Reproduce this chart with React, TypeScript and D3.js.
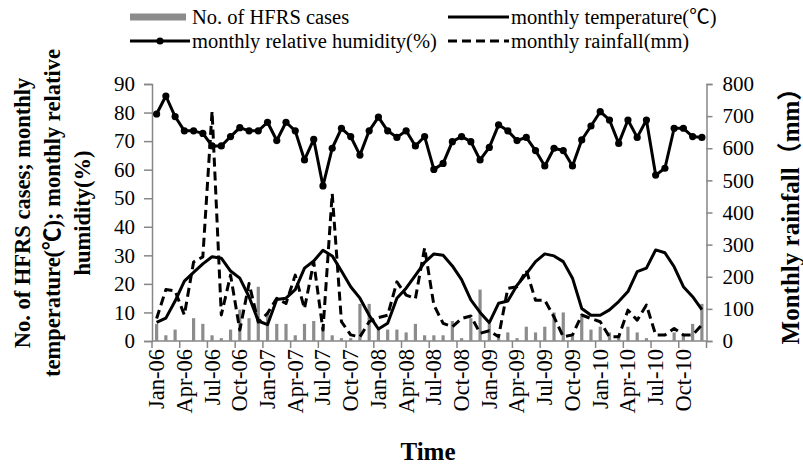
import React, { useEffect, useRef } from 'react';
import * as d3 from 'd3';

const monthNames = ['Jan', 'Feb', 'Mar', 'Apr', 'May', 'Jun', 'Jul', 'Aug', 'Sep', 'Oct', 'Nov', 'Dec'];
const years = ['06', '07', '08', '09', '10'];
const months = years.flatMap(y => monthNames.map(m => `${m}-${y}`));

// No. of HFRS cases
const cases = [
  6, 2, 4, 0, 8, 6, 2, 1, 4, 11, 8, 19,
  10, 6, 6, 2, 6, 7, 5, 2, 1, 1, 13, 13,
  4, 4, 4, 3, 6, 2, 2, 2, 7, 1, 8, 18,
  6, 1, 3, 1, 5, 3, 5, 10, 10, 2, 9, 4,
  5, 3, 2, 5, 3, 1, 0, 0, 3, 2.5, 6, 13
];
// monthly temperature (℃)
const temperature = [
  6.5, 8, 14, 21, 24, 27, 29.5, 29, 24.5, 22, 15.5, 7,
  5.7, 14.5, 15, 18, 25.5, 28, 31.8, 29.8, 24.5, 19, 15, 9,
  4.2, 6.2, 15, 18.5, 23, 27.5, 30.5, 30, 26.3, 21.5, 14.4, 10,
  6.4, 13.2, 14, 19.5, 23.5, 27.8, 30.5, 29.8, 27.8, 22, 11.4, 9,
  9, 10.9, 13.8, 17.3, 24.3, 25.5, 31.9, 30.9, 26, 19, 15.5, 11
];
// monthly relative humidity (%)
const humidity = [
  79.5, 85.8, 78.6, 73.6, 73.6, 72.7, 68.3, 68.3, 71.6, 74.7, 73.6, 73.6,
  76.6, 70.2, 76.6, 73.6, 63.4, 70.6, 54.3, 67.5, 74.5, 71.6, 65.1, 73.6,
  78.4, 73.6, 71.3, 73.6, 68.3, 71.6, 60.1, 62.2, 69.8, 71.6, 69.8, 63.4,
  67.8, 75.7, 73.6, 70.2, 71.3, 66.7, 61.3, 67.5, 66.7, 61.3, 70.4, 75.3,
  80.3, 77.4, 69.2, 77.4, 71.3, 77.4, 58.1, 60.5, 74.5, 74.5, 71.6, 71.3
];
// monthly rainfall (mm)
const rainfall = [
  70, 160, 156, 81, 246, 262, 715, 81, 205, 34, 179, 59,
  86, 133, 117, 205, 101, 246, 34, 459, 60, 19, 13, 60,
  73, 80, 184, 143, 132, 290, 112, 55, 44, 70, 78, 24,
  32, 13, 164, 169, 220, 127, 127, 75, 13, 19, 81, 70,
  60, 13, 13, 96, 65, 112, 19, 19, 39, 19, 19, 50
];

const leftTicks = [0, 10, 20, 30, 40, 50, 60, 70, 80, 90];
const rightTicks = [0, 100, 200, 300, 400, 500, 600, 700, 800];

const serif = "'Liberation Serif', 'Times New Roman', 'Noto Sans CJK SC', serif";

function App() {
  const svgRef = useRef<SVGSVGElement>(null);

  useEffect(() => {
    const svg = d3.select(svgRef.current);
    svg.selectAll('*').remove();

    const left = 152, right = 706.5, top = 84, bottom = 341;
    const axisColor = '#868686';

    const x = d3.scaleBand().domain(months).range([left, right]).padding(0);
    const bw = x.bandwidth();
    const cx = (i: number) => (x(months[i]) as number) + bw / 2;
    const yL = d3.scaleLinear().domain([0, 90]).range([bottom, top]);
    const yR = d3.scaleLinear().domain([0, 800]).range([bottom, top]);

    // left axis
    const gl = svg.append('g').attr('transform', `translate(${left},0)`)
      .call(d3.axisLeft(yL).tickValues(leftTicks).tickSize(8).tickPadding(9));
    // right axis
    const gr = svg.append('g').attr('transform', `translate(${right},0)`)
      .call(d3.axisRight(yR).tickValues(rightTicks).tickSize(6).tickPadding(10));
    [gl, gr].forEach(g => {
      g.select('.domain').attr('stroke', axisColor).attr('stroke-width', 1.5);
      g.selectAll('.tick line').attr('stroke', axisColor).attr('stroke-width', 1.5);
      g.selectAll('.tick text').attr('font-family', serif).attr('font-size', 21).attr('fill', '#000');
    });

    // x axis
    const gx = svg.append('g');
    gx.append('line').attr('x1', left).attr('x2', right).attr('y1', bottom).attr('y2', bottom)
      .attr('stroke', axisColor).attr('stroke-width', 1.5);
    const tickIdx = d3.range(0, months.length + 1, 3);
    gx.selectAll('line.tk').data(tickIdx).join('line').attr('class', 'tk')
      .attr('x1', i => i < months.length ? (x(months[i]) as number) : right)
      .attr('x2', i => i < months.length ? (x(months[i]) as number) : right)
      .attr('y1', bottom).attr('y2', bottom + 7)
      .attr('stroke', axisColor).attr('stroke-width', 1.5);
    gx.selectAll('text').data(months.filter((_, i) => i % 3 === 0)).join('text')
      .attr('transform', (d) => `translate(${(x(d) as number) + bw / 2},349) rotate(-90)`)
      .attr('text-anchor', 'end').attr('dy', '0.33em')
      .attr('font-family', serif).attr('font-size', 22.5).attr('fill', '#000')
      .text(d => d);

    // bars
    svg.append('g').selectAll('rect').data(cases).join('rect')
      .attr('x', (_, i) => cx(i) - 1.6).attr('width', 3.2)
      .attr('y', d => yL(d)).attr('height', d => bottom - yL(d))
      .attr('fill', '#8c8c8c');

    const lineL = d3.line<number>().x((_, i) => cx(i)).y(d => yL(d));
    const lineR = d3.line<number>().x((_, i) => cx(i)).y(d => yR(d));

    svg.append('path').datum(temperature).attr('d', lineL)
      .attr('fill', 'none').attr('stroke', '#000').attr('stroke-width', 3).attr('stroke-linejoin', 'round');

    svg.append('path').datum(humidity).attr('d', lineL)
      .attr('fill', 'none').attr('stroke', '#000').attr('stroke-width', 3).attr('stroke-linejoin', 'round');
    svg.append('g').selectAll('circle').data(humidity).join('circle')
      .attr('cx', (_, i) => cx(i)).attr('cy', d => yL(d)).attr('r', 3.6).attr('fill', '#000');

    svg.append('path').datum(rainfall).attr('d', lineR)
      .attr('fill', 'none').attr('stroke', '#000').attr('stroke-width', 3)
      .attr('stroke-dasharray', '9,5').attr('stroke-linejoin', 'round');

    // legend
    const lg = svg.append('g').attr('font-family', serif).attr('font-size', 20.5).attr('fill', '#000');
    lg.append('rect').attr('x', 130).attr('y', 13.5).attr('width', 56).attr('height', 7).attr('fill', '#8c8c8c');
    lg.append('text').attr('x', 192).attr('y', 24).text('No. of HFRS cases');
    lg.append('line').attr('x1', 448).attr('x2', 509).attr('y1', 17).attr('y2', 17).attr('stroke', '#000').attr('stroke-width', 3);
    lg.append('text').attr('x', 511).attr('y', 24).text('monthly temperature(℃)');
    lg.append('line').attr('x1', 130).attr('x2', 190).attr('y1', 41).attr('y2', 41).attr('stroke', '#000').attr('stroke-width', 3);
    lg.append('circle').attr('cx', 160).attr('cy', 41).attr('r', 3.6).attr('fill', '#000');
    lg.append('text').attr('x', 192).attr('y', 48).text('monthly relative humidity(%)');
    lg.append('line').attr('x1', 448).attr('x2', 509).attr('y1', 41).attr('y2', 41).attr('stroke', '#000').attr('stroke-width', 3).attr('stroke-dasharray', '9,5');
    lg.append('text').attr('x', 511).attr('y', 48).text('monthly rainfall(mm)');

    // axis titles
    const tt = svg.append('g').attr('font-family', serif).attr('font-weight', 'bold').attr('fill', '#000').attr('text-anchor', 'middle');
    const leftTitle = ['No. of HFRS cases; monthly', 'temperature(℃); monthly relative', 'humidity(%)'];
    leftTitle.forEach((t, k) => {
      tt.append('text').attr('font-size', 22.5).attr('transform', `translate(${22 + k * 30},213) rotate(-90)`).attr('dy', '0.35em').text(t);
    });
    tt.append('text').attr('font-size', 25).attr('transform', `translate(790,210) rotate(-90)`).attr('dy', '0.35em').text('Monthly rainfall（mm）');
    tt.append('text').attr('font-size', 25).attr('x', 428).attr('y', 460).text('Time');
  }, []);

  return (
    <svg ref={svgRef} width={803} height={464} style={{ position: 'absolute', left: 0, top: 0, background: '#fff' }} />
  );
}

export default App;
